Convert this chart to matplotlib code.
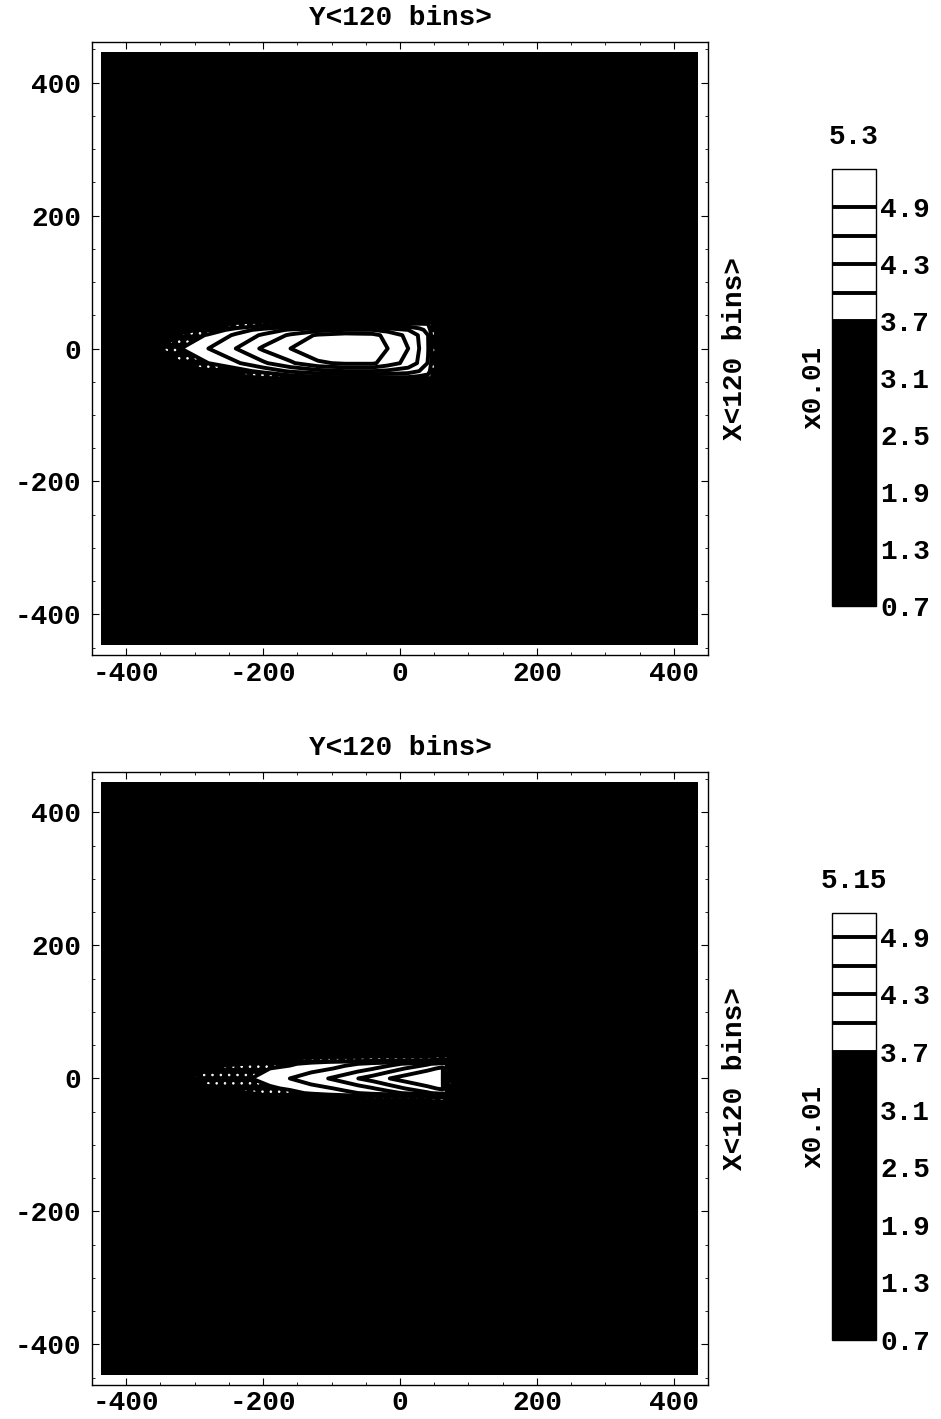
import matplotlib
matplotlib.use('Agg')
import matplotlib.pyplot as plt
import numpy as np

plt.rcParams['font.family'] = ['Liberation Mono', 'DejaVu Sans Mono']
plt.rcParams['font.weight'] = 'bold'
plt.rcParams['axes.titleweight'] = 'bold'
plt.rcParams['axes.labelweight'] = 'bold'
plt.rcParams['axes.unicode_minus'] = False
plt.rcParams['hatch.color'] = 'white'
plt.rcParams['hatch.linewidth'] = 0.6

# ---- top panel: sample positions (Y bins across, X bins up) and values (x0.01)
top_y = [-436, -390, -350, -320, -280, -240, -200, -160, -120, -80, -40, -18,
         12, 28, 41, 47, 56, 70, 434]
top_x = [-445, -80, -52, -44, -34, -22, 0, 20, 28, 37, 48, 80, 445]
# one list per Y column, values from bottom (X=-445) to top (X=445)
top_z = [
    [0.7, 0.8, 0.8, 0.8, 0.8, 0.8, 0.8, 0.8, 0.8, 0.8, 0.8, 0.8, 0.7],
    [0.7, 0.9, 1.1, 1.3, 1.7, 2.1, 2.6, 2.1, 1.7, 1.3, 1.1, 0.9, 0.7],
    [0.7, 0.9, 1.4, 1.8, 2.4, 2.9, 3.35, 2.9, 2.4, 1.8, 1.4, 0.9, 0.7],
    [0.7, 1.0, 1.7, 2.2, 2.9, 3.35, 3.7, 3.4, 3.0, 2.3, 1.7, 1.0, 0.7],
    [0.7, 1.0, 2.0, 2.7, 3.3, 3.7, 4.0, 3.75, 3.45, 2.8, 2.0, 1.0, 0.7],
    [0.7, 1.0, 2.2, 3.0, 3.55, 3.95, 4.3, 4.05, 3.85, 3.3, 2.2, 1.0, 0.7],
    [0.7, 1.0, 2.4, 3.3, 3.8, 4.25, 4.65, 4.35, 4.1, 3.55, 2.4, 1.0, 0.7],
    [0.7, 1.0, 2.5, 3.5, 4.05, 4.55, 4.9, 4.65, 4.35, 3.65, 2.5, 1.0, 0.7],
    [0.7, 1.0, 2.6, 3.6, 4.2, 4.85, 5.15, 4.95, 4.5, 3.7, 2.6, 1.0, 0.7],
    [0.7, 1.0, 2.6, 3.65, 4.3, 4.95, 5.3, 5.05, 4.6, 3.72, 2.6, 1.0, 0.7],
    [0.7, 1.0, 2.6, 3.65, 4.3, 4.95, 5.2, 5.0, 4.6, 3.72, 2.6, 1.0, 0.7],
    [0.7, 1.0, 2.6, 3.65, 4.25, 4.75, 4.9, 4.8, 4.5, 3.72, 2.6, 1.0, 0.7],
    [0.7, 1.0, 2.6, 3.65, 4.15, 4.5, 4.6, 4.52, 4.3, 3.72, 2.6, 1.0, 0.7],
    [0.7, 1.0, 2.5, 3.6, 4.0, 4.25, 4.3, 4.27, 4.1, 3.72, 2.5, 1.0, 0.7],
    [0.7, 1.0, 2.4, 3.55, 3.85, 3.98, 4.02, 4.0, 3.9, 3.7, 2.4, 1.0, 0.7],
    [0.7, 1.0, 2.2, 3.2, 3.5, 3.6, 3.65, 3.6, 3.5, 3.3, 2.2, 1.0, 0.7],
    [0.7, 1.0, 1.8, 2.6, 2.9, 3.0, 3.0, 3.0, 2.9, 2.6, 1.8, 1.0, 0.7],
    [0.7, 0.9, 1.3, 1.7, 2.0, 2.1, 2.1, 2.1, 2.0, 1.7, 1.3, 0.9, 0.7],
    [0.7, 0.8, 0.8, 0.8, 0.8, 0.8, 0.8, 0.8, 0.8, 0.8, 0.8, 0.8, 0.7],
]

# ---- bottom panel
bot_y = [-436, -330, -300, -260, -217, -190, -161, -130, -105, -80, -61, -40,
         -15, 10, 40, 62, 70, 80, 92, 434]
bot_x = [-445, -80, -40, -28, -22, -15, 0, 15, 22, 28, 40, 80, 445]
bot_z = [
    [0.7, 0.8, 0.8, 0.8, 0.8, 0.8, 0.8, 0.8, 0.8, 0.8, 0.8, 0.8, 0.7],
    [0.7, 0.9, 1.2, 1.6, 2.0, 2.5, 3.0, 2.5, 2.0, 1.6, 1.2, 0.9, 0.7],
    [0.7, 0.9, 1.5, 2.1, 2.6, 3.1, 3.45, 3.1, 2.6, 2.1, 1.5, 0.9, 0.7],
    [0.7, 0.9, 1.8, 2.5, 3.0, 3.4, 3.55, 3.45, 3.1, 2.6, 1.8, 0.9, 0.7],
    [0.7, 1.0, 2.0, 2.9, 3.3, 3.55, 3.7, 3.55, 3.35, 3.0, 2.0, 1.0, 0.7],
    [0.7, 1.0, 2.2, 3.1, 3.45, 3.65, 3.85, 3.7, 3.5, 3.2, 2.2, 1.0, 0.7],
    [0.7, 1.0, 2.4, 3.3, 3.6, 3.75, 4.0, 3.78, 3.65, 3.35, 2.4, 1.0, 0.7],
    [0.7, 1.0, 2.5, 3.4, 3.75, 3.9, 4.15, 3.9, 3.8, 3.45, 2.5, 1.0, 0.7],
    [0.7, 1.0, 2.6, 3.45, 3.85, 3.97, 4.3, 3.97, 3.88, 3.5, 2.6, 1.0, 0.7],
    [0.7, 1.0, 2.6, 3.5, 3.93, 4.07, 4.45, 4.07, 3.95, 3.5, 2.6, 1.0, 0.7],
    [0.7, 1.0, 2.7, 3.5, 4.0, 4.17, 4.6, 4.17, 4.0, 3.5, 2.7, 1.0, 0.7],
    [0.7, 1.0, 2.7, 3.55, 4.1, 4.28, 4.72, 4.28, 4.1, 3.55, 2.7, 1.0, 0.7],
    [0.7, 1.0, 2.7, 3.55, 4.2, 4.45, 4.9, 4.45, 4.2, 3.55, 2.7, 1.0, 0.7],
    [0.7, 1.0, 2.7, 3.6, 4.35, 4.62, 5.05, 4.62, 4.35, 3.6, 2.7, 1.0, 0.7],
    [0.7, 1.0, 2.7, 3.6, 4.55, 4.83, 5.15, 4.83, 4.55, 3.6, 2.7, 1.0, 0.7],
    [0.7, 1.0, 2.7, 3.75, 4.75, 4.95, 5.0, 4.95, 4.75, 3.75, 2.7, 1.0, 0.7],
    [0.7, 1.0, 2.6, 3.8, 4.7, 4.2, 3.3, 4.2, 4.7, 3.8, 2.6, 1.0, 0.7],
    [0.7, 1.0, 2.2, 3.2, 3.8, 3.3, 2.5, 3.3, 3.8, 3.2, 2.2, 1.0, 0.7],
    [0.7, 1.0, 1.5, 1.9, 2.1, 2.0, 1.8, 2.0, 2.1, 1.9, 1.5, 1.0, 0.7],
    [0.7, 0.8, 0.8, 0.8, 0.8, 0.8, 0.8, 0.8, 0.8, 0.8, 0.8, 0.8, 0.7],
]

top_levels = [0.7, 3.4, 3.7, 4.0, 4.3, 4.6, 4.9, 5.3]
bot_levels = [0.7, 3.4, 3.7, 4.0, 4.3, 4.6, 4.9, 5.15]
line_levels = [3.7, 4.0, 4.3, 4.6, 4.9]
cbar_ticks = [0.7, 1.3, 1.9, 2.5, 3.1, 3.7, 4.3, 4.9]
axis_ticks = [-400, -200, 0, 200, 400]

FS = 20


def plot_panel(fig, ax_rect, cax_rect, ys, xs, zs, levels, top_label):
    ax = fig.add_axes(ax_rect)
    cax = fig.add_axes(cax_rect)
    grid = np.array(zs).T
    colors = ['black', 'black'] + ['white'] * (len(levels) - 3)
    hatches = [None, '..'] + [None] * (len(levels) - 3)
    cf = ax.contourf(ys, xs, grid, levels=levels, colors=colors, hatches=hatches)
    cs = ax.contour(ys, xs, grid, levels=line_levels, colors='black',
                    linewidths=2.8)

    ax.set_xlim(-450, 450)
    ax.set_ylim(-461, 461)
    ax.set_xticks(axis_ticks)
    ax.set_yticks(axis_ticks)
    ax.set_xticks(np.arange(-450, 451, 50), minor=True)
    ax.set_yticks(np.arange(-450, 451, 50), minor=True)
    ax.tick_params(which='both', direction='in', top=True, right=True,
                   labelsize=FS)
    ax.tick_params(which='major', length=5)
    ax.tick_params(axis='y', which='major', pad=8)
    ax.tick_params(axis='x', which='major', pad=4)
    ax.tick_params(which='minor', length=2.5)
    for sp in ax.spines.values():
        sp.set_linewidth(1)
    ax.set_title('Y<120 bins>', fontsize=FS, pad=12)
    ax.yaxis.set_label_position('right')
    ax.set_ylabel('X<120 bins>', fontsize=FS, labelpad=10)

    cbar = fig.colorbar(cf, cax=cax, ticks=cbar_ticks, spacing='proportional')
    cbar.add_lines(cs)
    cbar.outline.set_linewidth(1)
    cax.tick_params(length=0, labelsize=FS, pad=3)
    cax.yaxis.set_label_position('left')
    cbar.set_label('x0.01', fontsize=FS, labelpad=4)
    cax.set_title(top_label, fontsize=FS, pad=18)


def main():
    fig = plt.figure(figsize=(9.41, 14.19), dpi=100)
    plot_panel(fig, [0.0978, 0.5384, 0.6546, 0.432],
               [0.8842, 0.5729, 0.0468, 0.308],
               top_y, top_x, top_z, top_levels, '5.3')
    plot_panel(fig, [0.0978, 0.0240, 0.6546, 0.432],
               [0.8842, 0.0557, 0.0468, 0.301],
               bot_y, bot_x, bot_z, bot_levels, '5.15')
    fig.savefig('out.png', dpi=100)


if __name__ == '__main__':
    main()
